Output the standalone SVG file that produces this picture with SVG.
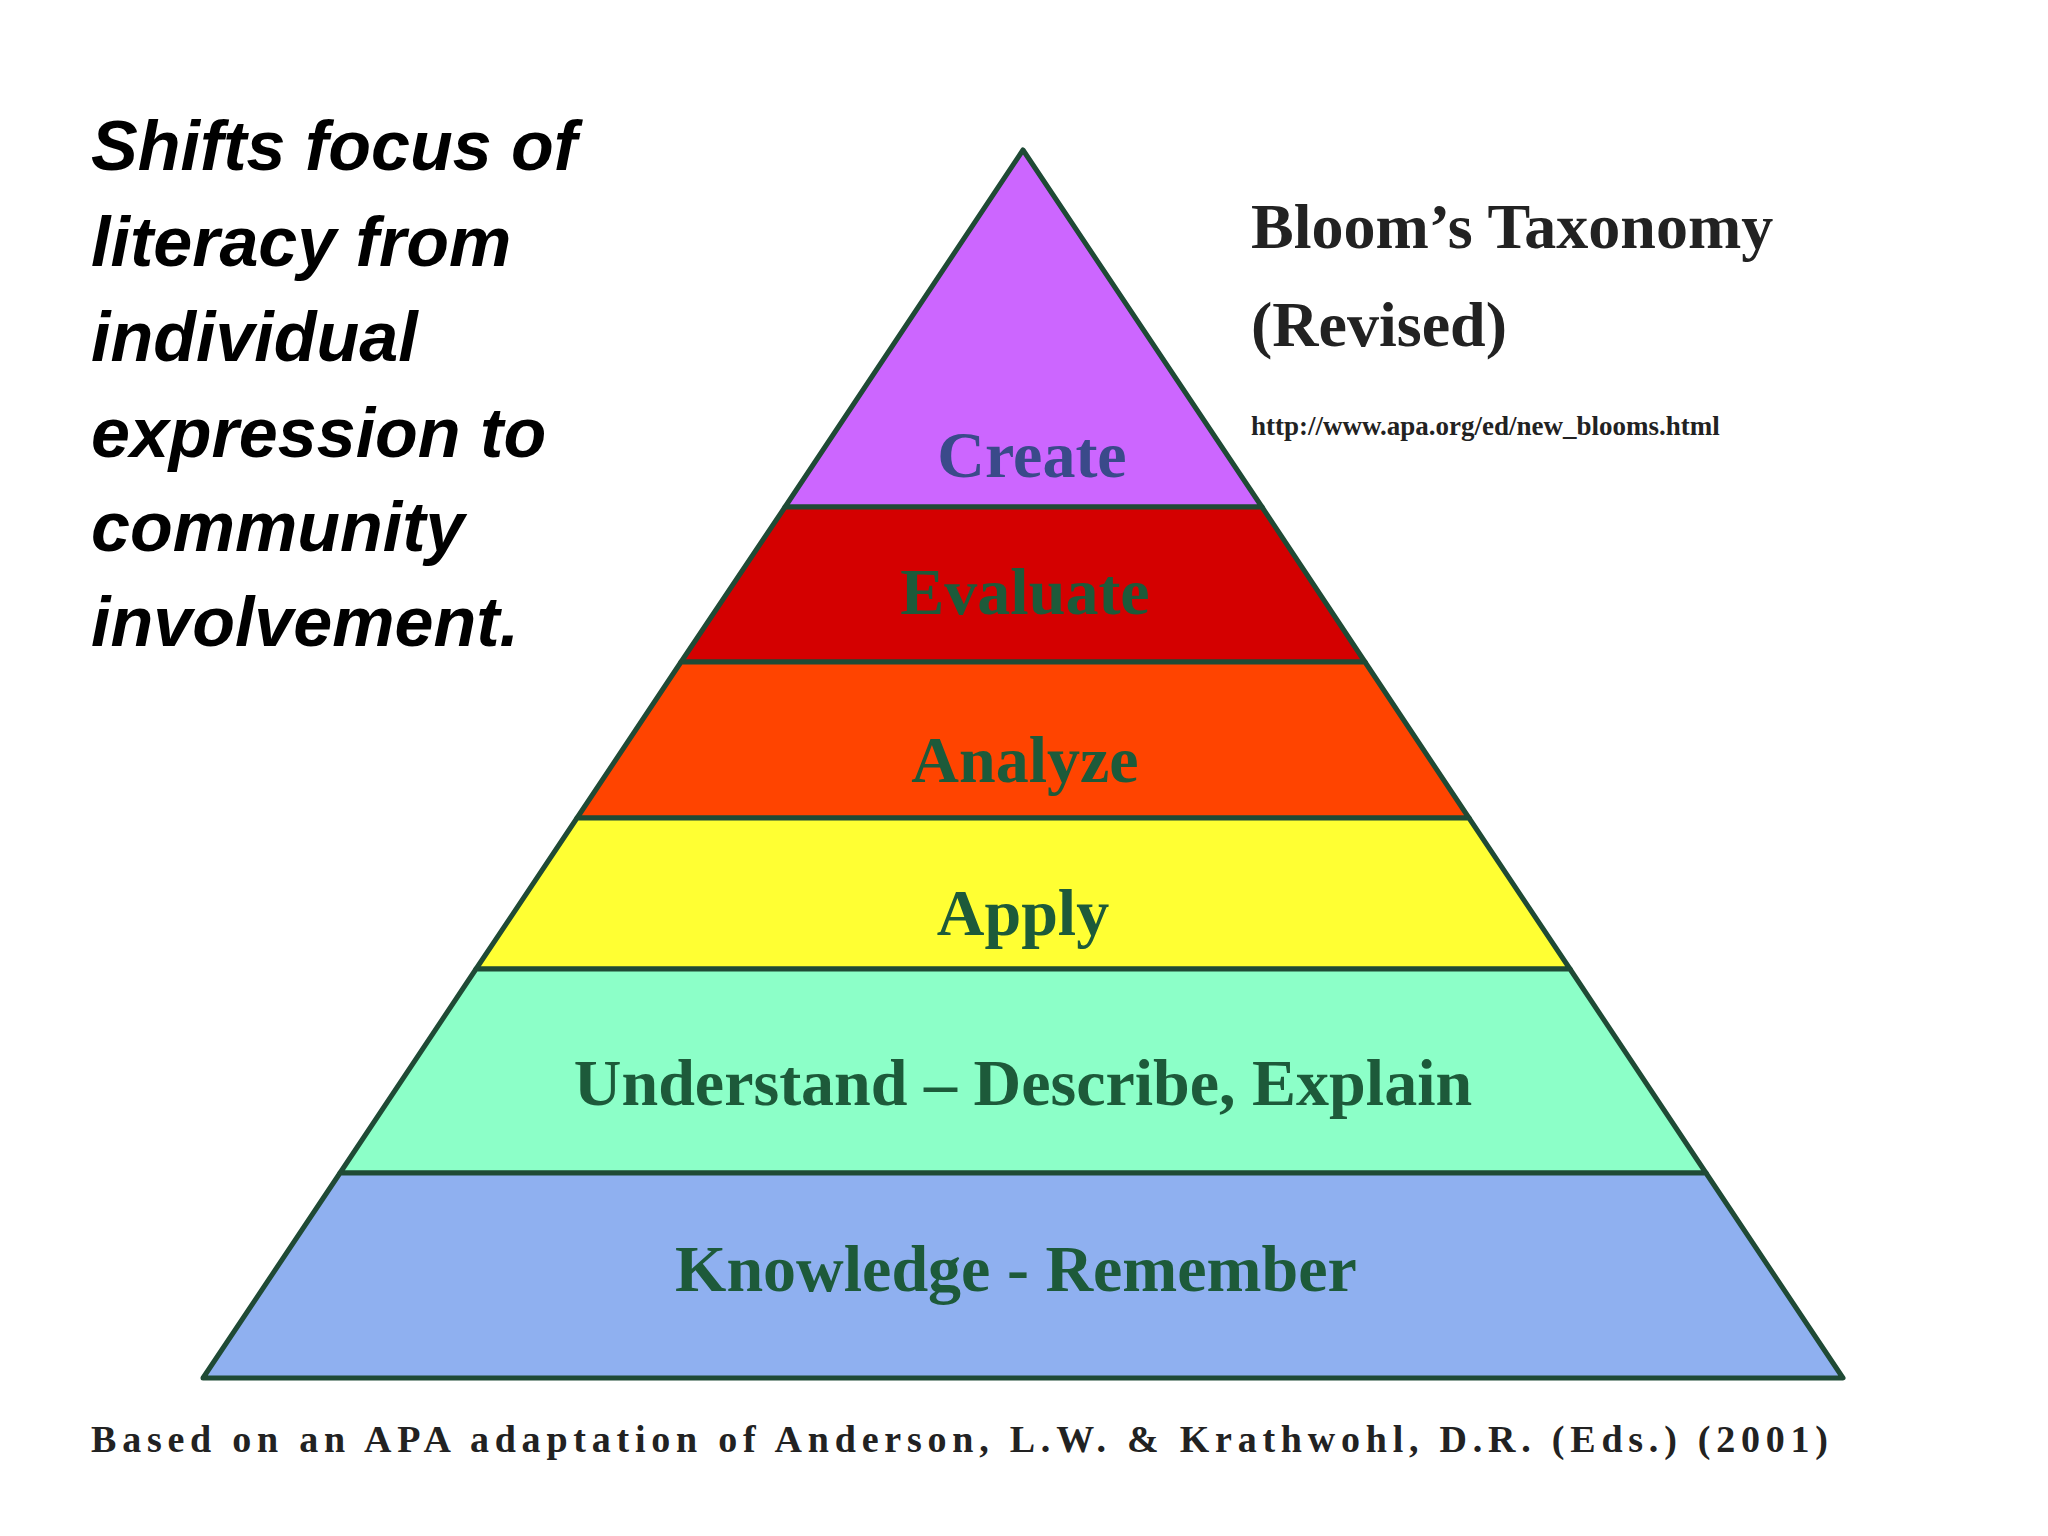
<svg xmlns="http://www.w3.org/2000/svg" width="2048" height="1536" viewBox="0 0 2048 1536">
<style>
.band{stroke:#1f4a35;stroke-width:5;stroke-linejoin:round}
.lbl{font-family:"Liberation Serif",serif;font-weight:bold;text-anchor:middle;fill:#1d5a3a}
.side{font-family:"Liberation Sans",Arial,sans-serif;font-weight:bold;font-style:italic;font-size:70px;fill:#000}
.ser{font-family:"Liberation Serif",serif;fill:#222}
</style>
<rect width="2048" height="1536" fill="#fff"/>
<g id="left-text">
<text class="side" x="91" y="170">Shifts focus of</text>
<text class="side" x="91" y="266">literacy from</text>
<text class="side" x="91" y="361">individual</text>
<text class="side" x="91" y="457">expression to</text>
<text class="side" x="91" y="551">community</text>
<text class="side" x="91" y="646">involvement.</text>
</g>
<g id="title">
<text class="ser" x="1251" y="248" font-size="64" font-weight="bold">Bloom’s Taxonomy</text>
<text class="ser" x="1251" y="346" font-size="64" font-weight="bold">(Revised)</text>
<text class="ser" x="1251" y="435" font-size="27" font-weight="bold">http://www.apa.org/ed/new_blooms.html</text>
</g>
<g id="create"><polygon class="band" fill="#cc66ff" points="1023,150 1262,507 785,507"/><text class="lbl" x="1032" y="477" font-size="66" fill="#3a4a8a" style="fill:#3a4a8a">Create</text></g>
<g id="evaluate"><polygon class="band" fill="#d40000" points="785,507 1262,507 1365,662 681,662"/><text class="lbl" x="1025" y="614" font-size="66">Evaluate</text></g>
<g id="analyze"><polygon class="band" fill="#ff4400" points="681,662 1365,662 1469,818 577,818"/><text class="lbl" x="1025" y="782" font-size="66">Analyze</text></g>
<g id="apply"><polygon class="band" fill="#ffff33" points="577,818 1469,818 1570,969 476,969"/><text class="lbl" x="1023" y="935" font-size="66">Apply</text></g>
<g id="understand"><polygon class="band" fill="#8cffc8" points="476,969 1570,969 1706,1173 340,1173"/><text class="lbl" x="1023" y="1105" font-size="66">Understand – Describe, Explain</text></g>
<g id="knowledge"><polygon class="band" fill="#8fb0f0" points="340,1173 1706,1173 1843,1378 203,1378"/><text class="lbl" x="1016" y="1291" font-size="66">Knowledge - Remember</text></g>
<g id="footer"><text class="ser" x="91" y="1452" font-size="38" font-weight="bold" textLength="1737">Based on an APA adaptation of Anderson, L.W. &amp; Krathwohl, D.R. (Eds.) (2001)</text></g>
</svg>
